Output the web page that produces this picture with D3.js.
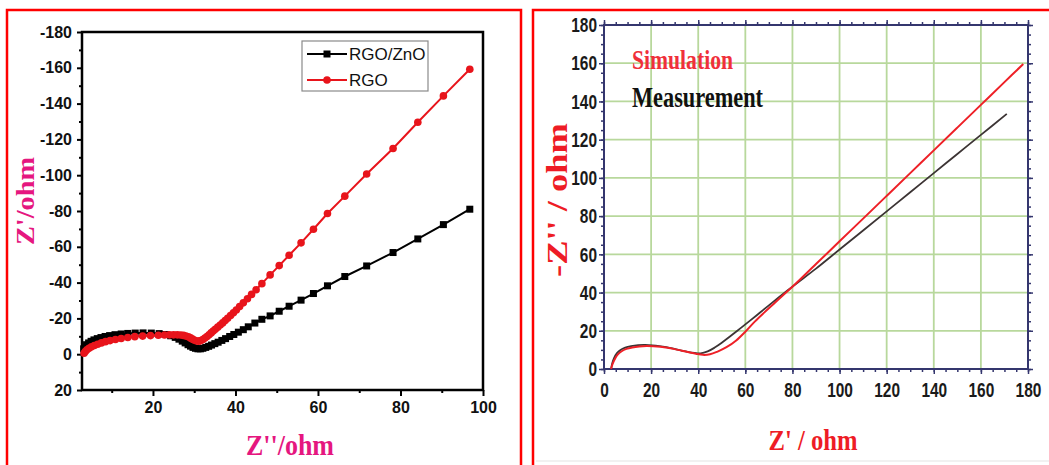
<!DOCTYPE html>
<html>
<head>
<meta charset="utf-8">
<script src="https://d3js.org/d3.v7.min.js"></script>
<style>
  html, body { margin: 0; padding: 0; background: #fff; }
  svg { display: block; }
</style>
</head>
<body>
<div id="chart"></div>
<script>
// ---- left panel data (Nyquist plot, values as printed on the axis) ----
var rgoZnoX = [3.2, 3.5, 3.9, 4.4, 5.0, 5.7, 6.5, 7.4, 8.4, 9.5, 10.8, 12.3, 13.9, 15.7, 17.6, 19.6, 21.5, 23.0, 24.3, 25.4,
               26.3, 27.1, 27.8, 28.5, 29.1, 29.7, 30.3, 30.9, 31.5, 32.1, 32.8, 33.5, 34.2, 35.0, 35.8, 36.7, 37.6, 38.6,
               39.6, 40.7, 41.9, 43.1, 44.7, 46.4, 48.4, 50.6, 53.0, 55.9, 58.9, 62.3, 66.5, 71.8, 78.2, 84.2, 90.4, 96.8];
var rgoZnoY = [-3.0, -4.2, -5.3, -6.3, -7.2, -8.0, -8.7, -9.3, -9.9, -10.4, -10.9, -11.3, -11.6, -11.8, -11.9, -11.8, -11.5, -11.0, -10.3, -9.4,
               -8.4, -7.3, -6.3, -5.3, -4.5, -3.8, -3.3, -3.0, -3.0, -3.3, -3.8, -4.4, -5.1, -5.9, -6.7, -7.7, -8.7, -9.9,
               -11.0, -12.3, -13.7, -15.3, -17.4, -19.5, -21.4, -24.0, -26.8, -30.2, -33.9, -38.2, -43.4, -49.3, -56.8, -64.4, -72.4, -81.0];

var rgoX = [3.3, 3.6, 4.0, 4.5, 5.1, 5.8, 6.6, 7.5, 8.5, 9.6, 10.9, 12.3, 13.9, 15.6, 17.5, 19.4, 21.3, 22.8, 24.0, 25.0,
            25.9, 26.7, 27.4, 28.0, 28.6, 29.1, 29.6, 30.1, 30.6, 31.1, 31.6, 32.1, 32.6, 33.1, 33.6, 34.1, 34.6, 35.1,
            35.7, 36.3, 36.9, 37.5, 38.1, 38.8, 39.5, 40.2, 41.0, 41.9, 42.9, 43.9, 45.0, 46.4, 48.4, 50.6, 53.0, 55.9,
            58.9, 62.3, 66.5, 71.8, 78.2, 84.2, 90.4, 96.8];
var rgoY = [-0.5, -1.5, -2.5, -3.3, -4.1, -4.9, -5.6, -6.3, -7.0, -7.6, -8.2, -8.8, -9.3, -9.8, -10.1, -10.4, -10.6, -10.7, -10.8, -10.8,
            -10.8, -10.7, -10.5, -10.2, -9.7, -9.1, -8.4, -7.8, -7.4, -7.3, -7.6, -8.2, -9.0, -9.9, -10.9, -11.9, -12.9, -13.9,
            -15.1, -16.3, -17.5, -18.8, -20.1, -21.6, -23.1, -24.7, -26.6, -28.7, -31.0, -33.4, -36.0, -39.4, -44.3, -49.5, -55.3, -62.2,
            -69.8, -78.6, -88.3, -100.7, -114.9, -129.6, -144.3, -159.2];

var leftXTicks = [20, 40, 60, 80, 100];
var leftXMinor = [10, 30, 50, 70, 90];
var leftYTicks = [-180, -160, -140, -120, -100, -80, -60, -40, -20, 0, 20];
var leftYMinor = [-170, -150, -130, -110, -90, -70, -50, -30, -10, 10];
var leftSeries = ["RGO/ZnO", "RGO"];

// ---- right panel data (simulation vs measurement) ----
var simX = [3.0, 3.6, 4.5, 5.8, 7.5, 9.5, 12, 15, 18, 21, 24, 27, 30, 33, 36, 39, 42, 45, 48, 52, 56, 60, 64, 68, 72, 76, 80,
            90, 100, 110, 120, 130, 140, 150, 160, 170, 178];
var simY = [0, 2.5, 5, 7.5, 9.3, 10.5, 11.3, 11.8, 12.0, 11.9, 11.6, 11.1, 10.4, 9.6, 8.8, 8.0, 7.4, 7.7, 9.0, 11.4, 14.8, 19.5, 24.8, 29.5, 34.0, 38.6, 43.0,
            54.9, 66.8, 78.7, 90.6, 102.5, 114.4, 126.3, 138.2, 150.1, 159.6];
var measX = [3.0, 3.5, 4.3, 5.5, 7, 9, 11.5, 14.5, 17.5, 20.5, 23.5, 26.5, 29.5, 32.5, 35.5, 38.5, 41, 44, 47, 50, 54, 58, 62, 66,
             70, 74, 78, 82, 90, 100, 110, 120, 130, 140, 150, 160, 171];
var measY = [0, 3, 5.8, 8.3, 10, 11.2, 12, 12.5, 12.6, 12.4, 12.0, 11.4, 10.6, 9.8, 9.0, 8.4, 8.2, 9.2, 11.2, 13.7, 17.5, 21.4, 25.3, 29.3,
             33.3, 37.3, 41.2, 45.0, 52.5, 62.5, 72.5, 82.5, 92.5, 102.5, 112.5, 122.5, 133.5];

var rightTicks = [0, 20, 40, 60, 80, 100, 120, 140, 160, 180];
var rightGrid = [20, 40, 60, 80, 100, 120, 140, 160];
var rightMinor = d3.range(0, 181, 5);

var W = 1049, H = 465;
var serif = "'Liberation Serif', 'Times New Roman', serif";
var sans = "'Liberation Sans', Arial, sans-serif";
var svg = d3.select("#chart").append("svg").attr("width", W).attr("height", H);
svg.append("rect").attr("width", W).attr("height", H).attr("fill", "#fff");

// panel borders
svg.append("path").attr("d", "M7,470 V10 H521 V470")
    .attr("fill", "none").attr("stroke", "#ff0000").attr("stroke-width", 2.5);
svg.append("path").attr("d", "M533,470 V10 H1052")
    .attr("fill", "none").attr("stroke", "#ff0000").attr("stroke-width", 2.5);
svg.append("line").attr("x1", 536).attr("x2", 1049).attr("y1", 461).attr("y2", 461)
    .attr("stroke", "#ececec").attr("stroke-width", 1.5);

// ================= LEFT PANEL =================
var xL = d3.scaleLinear().domain([2.8, 100]).range([82, 483]);
var yL = d3.scaleLinear().domain([20, -180]).range([390, 32]);
var left = svg.append("g");

function styleAxis(g, w, col) {
    g.select(".domain").remove();
    g.selectAll(".tick line").attr("stroke", col).attr("stroke-width", w);
}

left.append("g").attr("transform", "translate(0,390)")
    .call(d3.axisBottom(xL).tickValues(leftXMinor).tickSize(3).tickFormat(""))
    .call(styleAxis, 2, "#000");
left.append("g").attr("transform", "translate(0,390)")
    .call(d3.axisBottom(xL).tickValues(leftXTicks).tickSize(6).tickPadding(6).tickFormat(function (d) { return String(d); }))
    .call(styleAxis, 2, "#000")
    .selectAll("text").attr("font-family", sans)
    .attr("font-weight", "bold").attr("font-size", "16px").attr("fill", "#111");

left.append("g").attr("transform", "translate(82,0)")
    .call(d3.axisLeft(yL).tickValues(leftYMinor).tickSize(3).tickFormat(""))
    .call(styleAxis, 2, "#000");
left.append("g").attr("transform", "translate(82,0)")
    .call(d3.axisLeft(yL).tickValues(leftYTicks).tickSize(5).tickPadding(5).tickFormat(function (d) { return String(d); }))
    .call(styleAxis, 2, "#000")
    .selectAll("text").attr("font-family", sans)
    .attr("font-weight", "bold").attr("font-size", "16px").attr("fill", "#111");

left.append("rect").attr("x", xL.range()[0]).attr("y", yL.range()[1])
    .attr("width", xL.range()[1] - xL.range()[0]).attr("height", yL.range()[0] - yL.range()[1])
    .attr("fill", "none").attr("stroke", "#000").attr("stroke-width", 2.5);

var lineL = d3.line().x(function (d) { return xL(d[0]); }).y(function (d) { return yL(d[1]); });
var znoPts = d3.zip(rgoZnoX, rgoZnoY);
var rgoPts = d3.zip(rgoX, rgoY);

left.append("path").datum(znoPts).attr("d", lineL)
    .attr("fill", "none").attr("stroke", "#000").attr("stroke-width", 2);
left.selectAll("rect.zno").data(znoPts).enter().append("rect").attr("class", "zno")
    .attr("x", function (d) { return xL(d[0]) - 3.5; })
    .attr("y", function (d) { return yL(d[1]) - 3.5; })
    .attr("width", 7).attr("height", 7).attr("fill", "#000");

left.append("path").datum(rgoPts).attr("d", lineL)
    .attr("fill", "none").attr("stroke", "#e8141b").attr("stroke-width", 2);
left.selectAll("circle.rgo").data(rgoPts).enter().append("circle").attr("class", "rgo")
    .attr("cx", function (d) { return xL(d[0]); })
    .attr("cy", function (d) { return yL(d[1]); })
    .attr("r", 3.8).attr("fill", "#e8141b");

// legend
var leg = left.append("g").attr("transform", "translate(302,41)");
leg.append("rect").attr("width", 126).attr("height", 50)
    .attr("fill", "#fff").attr("stroke", "#8a8a8a").attr("stroke-width", 1.2);
leftSeries.forEach(function (name, i) {
    var yy = 13 + i * 26;
    var col = i === 0 ? "#000" : "#e8141b";
    leg.append("line").attr("x1", 5).attr("x2", 45).attr("y1", yy).attr("y2", yy)
        .attr("stroke", col).attr("stroke-width", 2);
    if (i === 0) {
        leg.append("rect").attr("x", 21.5).attr("y", yy - 3.5).attr("width", 7).attr("height", 7).attr("fill", col);
    } else {
        leg.append("circle").attr("cx", 25).attr("cy", yy).attr("r", 3.8).attr("fill", col);
    }
    leg.append("text").attr("x", 47).attr("y", yy + 6).text(name)
        .attr("font-family", sans).attr("font-size", "17px").attr("fill", "#111");
});

// axis titles
left.append("text").attr("transform", "translate(34,201) rotate(-90)")
    .attr("text-anchor", "middle").text("Z'/ohm")
    .attr("font-family", serif).attr("font-weight", "bold")
    .attr("font-size", "26px").attr("fill", "#e5177f")
    .attr("textLength", 88).attr("lengthAdjust", "spacingAndGlyphs");
left.append("text").attr("x", 290).attr("y", 455)
    .attr("text-anchor", "middle").text("Z''/ohm")
    .attr("font-family", serif).attr("font-weight", "bold")
    .attr("font-size", "29px").attr("fill", "#e5177f")
    .attr("textLength", 88).attr("lengthAdjust", "spacingAndGlyphs");

// ================= RIGHT PANEL =================
var xR = d3.scaleLinear().domain([0, 180]).range([604, 1028]);
var yR = d3.scaleLinear().domain([0, 180]).range([369, 25]);
var right = svg.append("g");
var navy = "#34366e";

// grid
right.selectAll("line.gx").data(rightGrid).enter().append("line").attr("class", "gx")
    .attr("x1", function (d) { return xR(d); }).attr("x2", function (d) { return xR(d); })
    .attr("y1", yR(0)).attr("y2", yR(180))
    .attr("stroke", "#b8d89c").attr("stroke-width", 1.8);
right.selectAll("line.gy").data(rightGrid).enter().append("line").attr("class", "gy")
    .attr("y1", function (d) { return yR(d); }).attr("y2", function (d) { return yR(d); })
    .attr("x1", xR(0)).attr("x2", xR(180))
    .attr("stroke", "#b8d89c").attr("stroke-width", 1.8);

// outward ticks on all four sides
var sides = [
    { ax: d3.axisBottom(xR), tr: "translate(0,369)" },
    { ax: d3.axisTop(xR), tr: "translate(0,25)" },
    { ax: d3.axisLeft(yR), tr: "translate(604,0)" },
    { ax: d3.axisRight(yR), tr: "translate(1028,0)" }
];
sides.forEach(function (s) {
    right.append("g").attr("transform", s.tr)
        .call(s.ax.tickValues(rightMinor).tickSize(3).tickFormat(""))
        .call(styleAxis, 1.5, navy);
    right.append("g").attr("transform", s.tr)
        .call(s.ax.tickValues(rightTicks).tickSize(5).tickFormat(""))
        .call(styleAxis, 1.5, navy);
});

function narrowLabels(sel) {
    sel.attr("font-family", sans).attr("font-weight", "bold")
        .attr("font-size", "21px").attr("fill", "#1a1a1a")
        .attr("textLength", function (d) { return String(d).length * 8.6; })
        .attr("lengthAdjust", "spacingAndGlyphs");
}
right.append("g").attr("transform", "translate(0,369)")
    .call(d3.axisBottom(xR).tickValues(rightTicks).tickSize(0).tickPadding(13))
    .call(function (g) { g.select(".domain").remove(); })
    .selectAll("text").call(narrowLabels);
right.append("g").attr("transform", "translate(604,0)")
    .call(d3.axisLeft(yR).tickValues(rightTicks).tickSize(0).tickPadding(7))
    .call(function (g) { g.select(".domain").remove(); })
    .selectAll("text").call(narrowLabels);

right.append("rect").attr("x", 604).attr("y", 25).attr("width", 424).attr("height", 344)
    .attr("fill", "none").attr("stroke", navy).attr("stroke-width", 2);

var lineR = d3.line().curve(d3.curveCatmullRom)
    .x(function (d) { return xR(d[0]); }).y(function (d) { return yR(d[1]); });
right.append("path").datum(d3.zip(measX, measY)).attr("d", lineR)
    .attr("fill", "none").attr("stroke", "#3c3434").attr("stroke-width", 1.8);
right.append("path").datum(d3.zip(simX, simY)).attr("d", lineR)
    .attr("fill", "none").attr("stroke", "#ee2027").attr("stroke-width", 2);

right.append("text").attr("x", 632).attr("y", 69).text("Simulation")
    .attr("font-family", serif).attr("font-weight", "bold")
    .attr("font-size", "28px").attr("fill", "#f0303a")
    .attr("textLength", 101).attr("lengthAdjust", "spacingAndGlyphs");
right.append("text").attr("x", 632).attr("y", 107).text("Measurement")
    .attr("font-family", serif).attr("font-weight", "bold")
    .attr("font-size", "29px").attr("fill", "#111")
    .attr("textLength", 131).attr("lengthAdjust", "spacingAndGlyphs");

right.append("text").attr("x", 813).attr("y", 450).attr("text-anchor", "middle").text("Z' / ohm")
    .attr("font-family", serif).attr("font-weight", "bold")
    .attr("font-size", "30px").attr("fill", "#ee1c25")
    .attr("textLength", 89).attr("lengthAdjust", "spacingAndGlyphs");
right.append("text").attr("transform", "translate(567,200) rotate(-90)").attr("text-anchor", "middle")
    .text("-Z'' / ohm")
    .attr("font-family", serif).attr("font-weight", "bold")
    .attr("font-size", "29px").attr("fill", "#ee1c25")
    .attr("textLength", 154).attr("lengthAdjust", "spacingAndGlyphs");
</script>
</body>
</html>
